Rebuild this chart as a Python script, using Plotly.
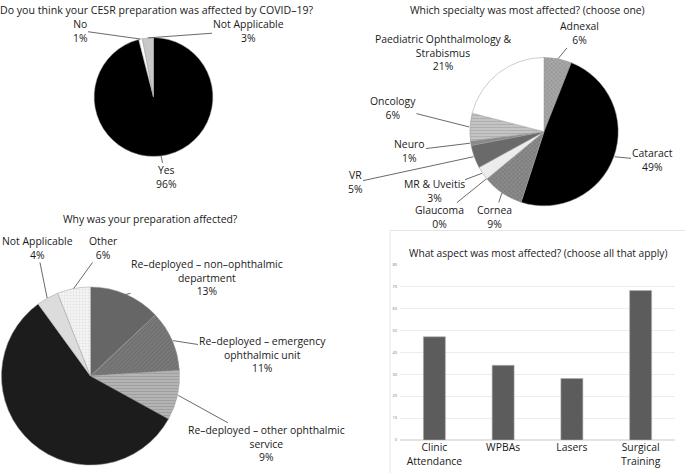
import math
import plotly.graph_objects as go

W, H = 685, 473

# ---------------- data ----------------
q1_labels = ["Yes", "No", "Not Applicable"]
q1_values = [96, 1, 3]

q2_labels = ["Adnexal", "Cataract", "Cornea", "Glaucoma", "MR & Uveitis",
             "VR", "Neuro", "Oncology", "Paediatric Ophthalmology & Strabismus"]
q2_values = [6, 49, 9, 0, 3, 5, 1, 6, 21]

q3_labels = ["Re–deployed – non–ophthalmic department",
             "Re–deployed – emergency ophthalmic unit",
             "Re–deployed – other ophthalmic service",
             "(unlabelled)", "Not Applicable", "Other"]
q3_values = [13, 11, 9, 57, 4, 6]

q4_categories = ["Clinic Attendance", "WPBAs", "Lasers", "Surgical Training"]
q4_tick_labels = ["Clinic<br>Attendance", "WPBAs", "Lasers", "Surgical<br>Training"]
q4_values = [47, 34, 28, 68]

# ---------------- styling / layout ----------------
FONT = "Open Sans"
TXT = "#1a1a1a"
LINE = "#444444"
LBL = 10.4

# pie geometry in pixels: centre x, centre y, radius
P1 = (153.5, 95, 60)
P2 = (544, 130, 75)
P3 = (90.5, 377, 90)

q1_colors = ["#000000", "#ffffff", "#c8c8c8"]
q2_colors = ["#a8a8a8", "#000000", "#8c8c8c", "#d0d0d0", "#ececec",
             "#6a6a6a", "#8a8a8a", "#c4c4c4", "#ffffff"]
q2_shapes = ["x", "", "x", "", "", "", "", "-", ""]
q2_fg = ["#6e6e6e", "#000", "#555555", "#000", "#000", "#000", "#000", "#9a9a9a", "#000"]
q3_colors = ["#666666", "#7a7a7a", "#b4b4b4", "#1c1c1c", "#dcdcdc", "#f4f4f4"]
q3_shapes = ["", "/", "-", "", "", "."]
q3_fg = ["#000", "#5c5c5c", "#8a8a8a", "#000", "#000", "#d2d2d2"]

q1_display = ["Yes", "No", "Not Applicable"]
q2_display = ["Adnexal", "Cataract", "Cornea", "Glaucoma", "MR & Uveitis", "VR",
              "Neuro", "Oncology", "Paediatric Ophthalmology &<br>Strabismus"]
q3_display = ["Re–deployed – non–ophthalmic<br>department",
              "Re–deployed – emergency<br>ophthalmic unit",
              "Re–deployed – other ophthalmic<br>service",
              None, "Not Applicable", "Other"]

# label text-block centres in pixels
q1_pos = [(166, 176), (80, 28), (248, 28)]
q2_pos = [(579, 31), (652, 159), (494, 216), (439, 216), (434, 190), (355, 181),
          (410, 149), (393, 106), (443, 50)]
q3_pos = [(207, 278), (262, 355), (266, 445), None, (37, 248), (103, 248)]


def domain(p):
    cx, cy, r = p
    return dict(x=[(cx - r) / W, (cx + r) / W], y=[1 - (cy + r) / H, 1 - (cy - r) / H])


def pie_trace(labels, values, colors, p, shapes=None, fg=None):
    marker = dict(colors=colors, line=dict(color="#9a9a9a", width=0.5))
    if shapes:
        marker["pattern"] = dict(shape=shapes, fgcolor=fg, bgcolor=colors,
                                 size=3, solidity=0.35, fillmode="overlay")
    return go.Pie(labels=labels, values=values, sort=False, direction="clockwise",
                  rotation=0, textinfo="none", marker=marker, domain=domain(p),
                  showlegend=False, hoverinfo="label+percent")


def label_annotations(values, display, positions, p):
    cx, cy, r = p
    total = float(sum(values))
    anns = []
    cum = 0.0
    for v, d, pos in zip(values, display, positions):
        mid = (cum + v / 2.0) / total
        cum += v
        if d is None:
            continue
        th = 2 * math.pi * mid
        tx = cx + r * math.sin(th)
        ty = cy - r * math.cos(th)
        pct = round(100 * v / total)
        anns.append(dict(
            x=tx / W, y=1 - ty / H, xref="paper", yref="paper",
            text=f"{d}<br>{pct}%", showarrow=True, arrowhead=0, arrowwidth=0.8,
            arrowcolor=LINE, ax=pos[0] - tx, ay=pos[1] - ty, standoff=0,
            borderpad=0, font=dict(family=FONT, size=LBL, color=TXT), align="center"))
    return anns


fig = go.Figure()
fig.add_trace(pie_trace(q1_labels, q1_values, q1_colors, P1))
fig.add_trace(pie_trace(q2_labels, q2_values, q2_colors, P2, q2_shapes, q2_fg))
fig.add_trace(pie_trace(q3_labels, q3_values, q3_colors, P3, q3_shapes, q3_fg))

fig.add_trace(go.Bar(x=q4_categories, y=q4_values, marker=dict(color="#5c5c5c",
              line=dict(color="#b0b0b0", width=0.6)), width=0.32,
              showlegend=False, xaxis="x", yaxis="y"))

annotations = []
annotations += label_annotations(q1_values, q1_display, q1_pos, P1)
annotations += label_annotations(q2_values, q2_display, q2_pos, P2)
annotations += label_annotations(q3_values, q3_display, q3_pos, P3)

titles = [
    ("Do you think your CESR preparation was affected by COVID–19?", 157, 7, 10.6),
    ("Which specialty was most affected? (choose one)", 527, 7, 10.4),
    ("Why was your preparation affected?", 150, 218, 10.4),
    ("What aspect was most affected? (choose all that apply)", 538, 253, 10.2),
]
for t, x, y, s in titles:
    annotations.append(dict(text=t, x=x / W, y=1 - y / H, xref="paper", yref="paper",
                            showarrow=False, xanchor="center", yanchor="middle",
                            borderpad=0, font=dict(family=FONT, size=s, color=TXT)))

fig.update_layout(
    width=W, height=H, margin=dict(l=0, r=0, t=0, b=0),
    paper_bgcolor="white", plot_bgcolor="white",
    font=dict(family=FONT, color=TXT),
    annotations=annotations,
    shapes=[dict(type="rect", xref="paper", yref="paper", x0=390 / W, x1=1.2,
                 y0=-0.2, y1=1 - 230 / H, line=dict(color="#e4e4e4", width=1))],
    xaxis=dict(domain=[400 / W, 675 / W], tickmode="array", tickvals=q4_categories,
               ticktext=q4_tick_labels, tickfont=dict(family=FONT, size=LBL, color=TXT),
               showline=False, ticks="", showgrid=False),
    yaxis=dict(domain=[1 - 441.7 / H, 1 - 264 / H], range=[0, 80], dtick=10,
               gridcolor="#ececec", gridwidth=1, zeroline=True, zerolinecolor="#e4e4e4",
               tickfont=dict(family=FONT, size=4, color="#777"), ticks="", ticklabelstandoff=2),
    bargap=0.68,
)

fig.write_html("out.html", config={"displayModeBar": False},
               post_script="document.body.style.margin='0';")
